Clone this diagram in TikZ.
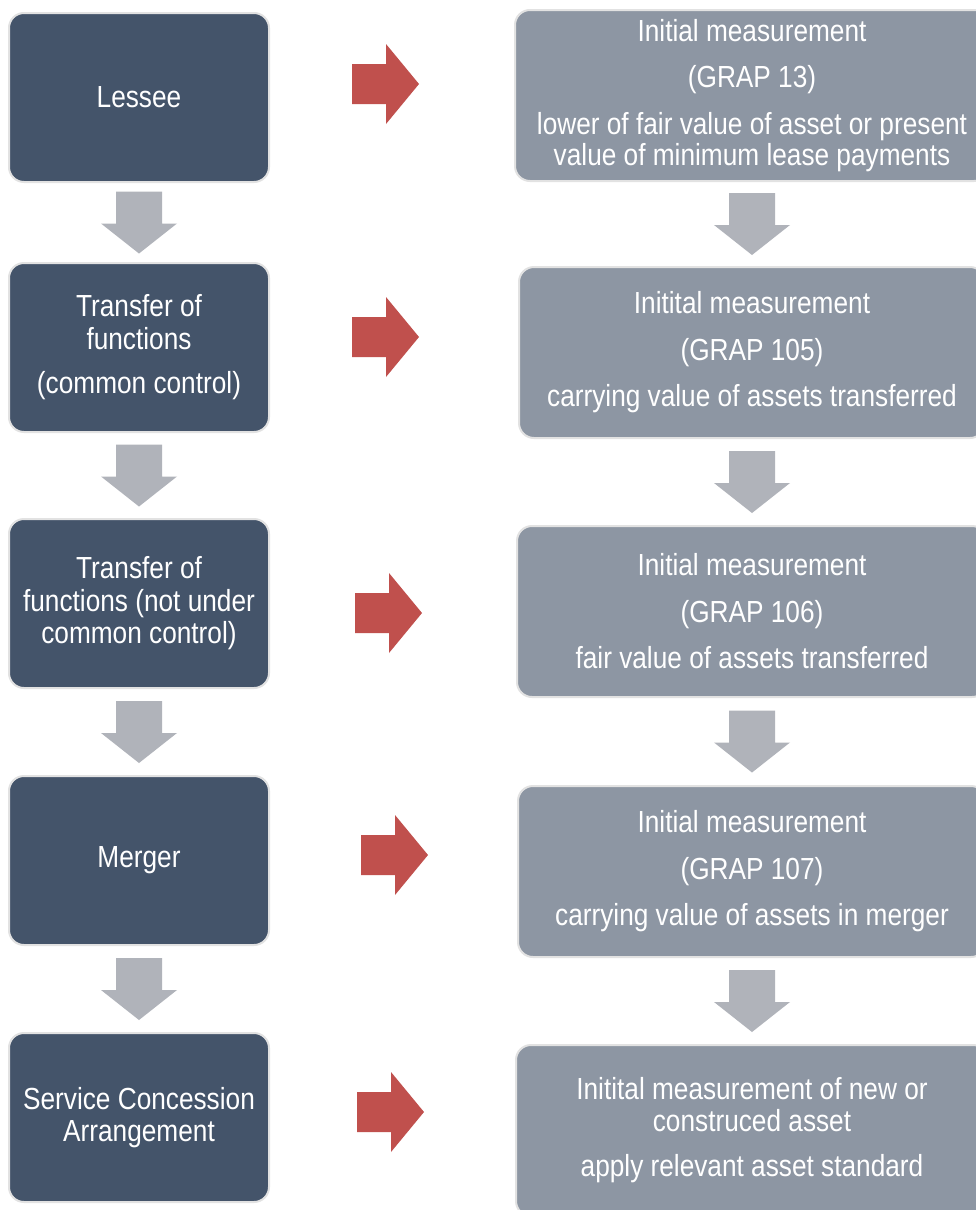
\documentclass[tikz,border=0pt]{standalone}
\usepackage{fontspec}
\setmainfont[FakeStretch=0.86]{Liberation Sans}
\usetikzlibrary{calc}

\definecolor{navybox}{HTML}{44546A}
\definecolor{slatebox}{HTML}{8D96A3}
\definecolor{arrowgray}{HTML}{B0B3BA}
\definecolor{arrowred}{HTML}{C0504D}
\definecolor{boxedge}{HTML}{E2E2E2}

\tikzset{
  x=1pt, y=-1pt,
  basebox/.style={rounded corners=15pt, draw=boxedge, line width=2pt,
    text=white, align=center, inner sep=0pt},
  leftbox/.style={basebox, fill=navybox, minimum width=260pt, minimum height=169pt,
    font=\fontsize{30.5}{32.5}\selectfont},
  rightbox/.style={basebox, fill=slatebox, minimum height=171pt,
    font=\fontsize{30.5}{31.5}\selectfont},
  pics/downarrow/.style={code={
    \fill[arrowgray] (-23,-31) -- (23,-31) -- (23,1) -- (38,1) -- (0,31)
      -- (-38,1) -- (-23,1) -- cycle;}},
  pics/redarrow/.style={code={
    \fill[arrowred] (0,-20) -- (34,-20) -- (34,-40) -- (67,0) -- (34,40)
      -- (34,20) -- (0,20) -- cycle;}}
}

\begin{document}
\begin{tikzpicture}
\useasboundingbox (0,0) rectangle (976,1210);
\clip (0,0) rectangle (976,1210);
\fill[white] (0,0) rectangle (976,1210);

% entity column
\node[leftbox] (L1) at (139,97.5)  {Lessee};
\node[leftbox] (L2) at (139,347.5) {Transfer of\\functions\\[12pt](common control)};
\node[leftbox] (L3) at (139,603.5) {Transfer of\\functions (not under\\common control)};
\node[leftbox] (L4) at (139,860.5) {Merger};
\node[leftbox] (L5) at (139,1117.5) {Service Concession\\Arrangement};

% measurement column
\node[rightbox, minimum width=474pt] (R1) at (752,95.5)
  {Initial measurement\\[15pt](GRAP 13)\\[15pt]lower of fair value of asset or present\\value of minimum lease payments};
\node[rightbox, minimum width=466pt] (R2) at (752,352.5)
  {Initital measurement\\[15pt](GRAP 105)\\[15pt]carrying value of assets transferred};
\node[rightbox, minimum width=470pt] (R3) at (752,611.5)
  {Initial measurement\\[15pt](GRAP 106)\\[15pt]fair value of assets transferred};
\node[rightbox, minimum width=468pt] (R4) at (752,871.5)
  {Initial measurement\\[15pt](GRAP 107)\\[15pt]carrying value of assets in merger};
\node[rightbox, minimum width=472pt] (R5) at (752,1130.5)
  {Initital measurement of new or\\construced asset\\[14pt]apply relevant asset standard};

% downward flow arrows
\foreach \a/\b in {L1/L2, L2/L3, L3/L4, L4/L5, R1/R2, R2/R3, R3/R4, R4/R5}
  \pic at ($(\a.south)!0.5!(\b.north)$) {downarrow};

% arrows from entity to measurement
\pic at (352,84)   {redarrow};
\pic at (352,337)  {redarrow};
\pic at (355,613)  {redarrow};
\pic at (361,855)  {redarrow};
\pic at (357,1112) {redarrow};
\end{tikzpicture}
\end{document}
